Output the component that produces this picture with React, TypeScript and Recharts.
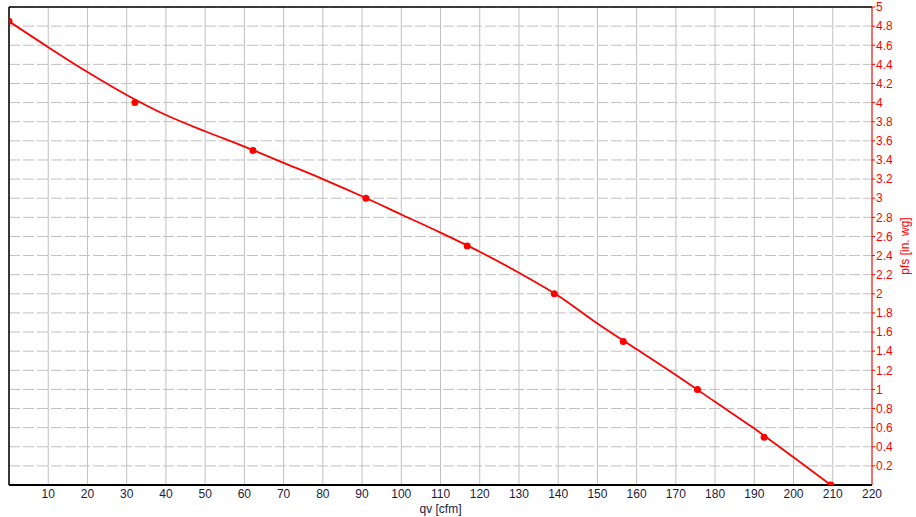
import React from "react";
import {
  ComposedChart,
  Line,
  Scatter,
  XAxis,
  YAxis,
  CartesianGrid,
  ReferenceLine,
  Label,
} from "recharts";

// fitted curve
const curveQ = [0, 10, 20, 30, 40, 50, 60, 70, 80, 90, 100, 110, 120, 130, 140, 150, 160, 170, 180, 190, 200, 209.5];
const curveP = [4.85, 4.58, 4.32, 4.08, 3.87, 3.70, 3.54, 3.37, 3.20, 3.02, 2.83, 2.64, 2.44, 2.22, 1.98, 1.69, 1.42, 1.15, 0.87, 0.59, 0.29, 0.0];

// measured points
const pointQ = [0, 32.1, 62.2, 91.0, 116.8, 139.0, 156.6, 175.5, 192.5, 209.5];
const pointP = [4.85, 4.0, 3.5, 3.0, 2.5, 2.0, 1.5, 1.0, 0.5, 0.0];

const xTicks = [10, 20, 30, 40, 50, 60, 70, 80, 90, 100, 110, 120, 130, 140, 150, 160, 170, 180, 190, 200, 210, 220];
const yTicks = [0.2, 0.4, 0.6, 0.8, 1, 1.2, 1.4, 1.6, 1.8, 2, 2.2, 2.4, 2.6, 2.8, 3, 3.2, 3.4, 3.6, 3.8, 4, 4.2, 4.4, 4.6, 4.8, 5];

const curveData = curveQ.map((q, i) => ({ q, p: curveP[i] }));
const pointData = pointQ.map((q, i) => ({ q, p: pointP[i] }));

const font = "Arial, 'Liberation Sans', sans-serif";

const Dot = (props: any) => <circle cx={props.cx} cy={props.cy} r={3.5} fill="#ff0000" />;

export default function App() {
  return (
    <div style={{ position: "absolute", left: 0, top: 0, background: "#fff" }}>
      <ComposedChart
        width={916}
        height={517}
        margin={{ top: 7, right: 0, left: 9, bottom: 0 }}
        style={{ fontFamily: font }}
      >
        <CartesianGrid horizontal={false} stroke="#c0c0c0" />
        <CartesianGrid vertical={false} stroke="#c0c0c0" strokeDasharray="11 3" />
        <XAxis
          type="number"
          dataKey="q"
          domain={[0, 220]}
          ticks={xTicks}
          interval={0}
          allowDataOverflow
          height={32}
          tickSize={0}
          tickMargin={4}
          axisLine={{ stroke: "#000", strokeWidth: 2 }}
          tick={{ fill: "#1a1a40", fontSize: 12 }}
        >
          <Label value="qv [cfm]" position="insideBottom" offset={4} fill="#1a1a40" fontSize={12} />
        </XAxis>
        <YAxis
          type="number"
          dataKey="p"
          orientation="right"
          domain={[0, 5]}
          ticks={yTicks}
          interval={0}
          allowDataOverflow
          width={44}
          tickSize={3}
          tickMargin={1}
          axisLine={{ stroke: "#ff0000" }}
          tickLine={{ stroke: "#ff0000" }}
          tick={{ fill: "#ff0000", fontSize: 12, textAnchor: "start" }}
        >
          <Label
            value="pfs [in. wg]"
            angle={-90}
            position="insideRight"
            offset={11}
            textAnchor="middle"
            fill="#ff0000"
            fontSize={12}
          />
        </YAxis>
        <ReferenceLine y={5} stroke="#000" strokeWidth={1.5} />
        <ReferenceLine x={0} stroke="#000" strokeWidth={1.5} />
        <Line
          data={curveData}
          dataKey="p"
          type="monotone"
          stroke="#ff0000"
          strokeWidth={1.8}
          dot={false}
          activeDot={false}
          isAnimationActive={false}
        />
        <Scatter data={pointData} dataKey="p" shape={Dot} isAnimationActive={false} />
      </ComposedChart>
    </div>
  );
}
